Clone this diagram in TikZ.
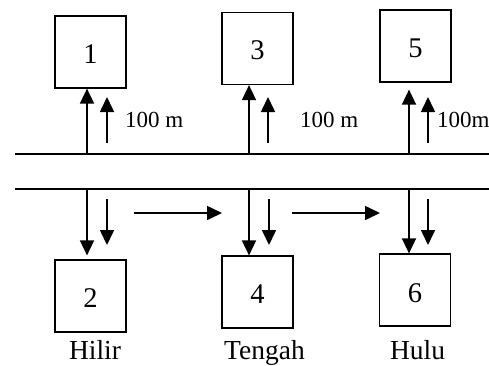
\documentclass[tikz,border=0pt]{standalone}
\usepackage{fontspec}
\setmainfont{Liberation Serif}
\usetikzlibrary{arrows.meta}
\begin{document}
\begin{tikzpicture}[x=1pt,y=-1pt,
  boxnode/.style={draw,line width=1.2pt,minimum width=71pt,minimum height=72pt,inner sep=0pt,font=\fontsize{28.5}{28.5}\selectfont},
  num/.style={inner sep=0pt,font=\fontsize{28.5}{28.5}\selectfont},
  arr/.style={line width=1.6pt,-{Triangle[width=14pt,length=15pt]}},
  road/.style={line width=1.5pt},
  lbl/.style={font=\fontsize{27.5}{27.5}\selectfont,anchor=base,inner sep=0pt},
  dist/.style={font=\fontsize{23}{23}\selectfont,anchor=west,inner sep=0pt}]
\useasboundingbox (0,0) rectangle (489,365);
\clip (0,0) rectangle (489,365);
% boxes
\node[boxnode] (b1) at (90.5,52) {};
\node[boxnode] (b3) at (257.5,48.5) {};
\node[boxnode] (b5) at (415.5,46) {};
\node[boxnode] (b2) at (90.5,296) {};
\node[boxnode] (b4) at (257.5,292) {};
\node[boxnode] (b6) at (415,290) {};
\node[num] (n1) at ([yshift=-2pt]b1.center) {1};
\node[num] (n3) at ([yshift=-2pt]b3.center) {3};
\node[num] (n5) at ([yshift=-2pt]b5.center) {5};
\node[num] (n2) at ([yshift=-2pt]b2.center) {2};
\node[num] (n4) at ([yshift=-2pt]b4.center) {4};
\node[num] (n6) at ([yshift=-3pt]b6.center) {6};
% road lines
\coordinate (rtl) at (15,154);
\coordinate (rtr) at (489,154);
\coordinate (rbl) at (15,189);
\coordinate (rbr) at (489,189);
\draw[road] (rtl) -- (rtr);
\draw[road] (rbl) -- (rbr);
% up arrows
\coordinate (u1) at (87,154);
\coordinate (u3) at (249,154);
\coordinate (u5) at (409,154);
\draw[arr] (u1) -- (b1.south -| u1);
\draw[arr] (u3) -- (b3.south -| u3);
\draw[arr,shorten >=7pt] (u5) -- (b5.south -| u5);
\coordinate (s1a) at (107,143); \coordinate (s1b) at (107,97);
\coordinate (s3a) at (268,143); \coordinate (s3b) at (268,97);
\coordinate (s5a) at (428,143); \coordinate (s5b) at (428,97);
\draw[arr] (s1a) -- (s1b);
\draw[arr] (s3a) -- (s3b);
\draw[arr] (s5a) -- (s5b);
\node[dist] (d1) at (125,120) {100 m};
\node[dist] (d3) at (300,120) {100 m};
\node[dist] (d5) at (437,120) {100m};
% down arrows
\coordinate (w2) at (87,189);
\coordinate (w4) at (249,189);
\coordinate (w6) at (409,189);
\draw[arr,shorten >=4pt] (w2) -- (b2.north -| w2);
\draw[arr] (w4) -- (b4.north -| w4);
\draw[arr] (w6) -- (b6.north -| w6);
\coordinate (t2a) at (107,199); \coordinate (t2b) at (107,245);
\coordinate (t4a) at (269,199); \coordinate (t4b) at (269,245);
\coordinate (t6a) at (428,199); \coordinate (t6b) at (428,245);
\draw[arr] (t2a) -- (t2b);
\draw[arr] (t4a) -- (t4b);
\draw[arr] (t6a) -- (t6b);
% flow arrows
\coordinate (f1a) at (134,213); \coordinate (f1b) at (222,213);
\coordinate (f2a) at (292,213); \coordinate (f2b) at (380,213);
\draw[arr] (f1a) -- (f1b);
\draw[arr] (f2a) -- (f2b);
% labels
\node[lbl] (lh) at (95,359) {Hilir};
\node[lbl] (lt) at (264.5,359) {Tengah};
\node[lbl] (lu) at (417.5,359) {Hulu};
\end{tikzpicture}
\end{document}
